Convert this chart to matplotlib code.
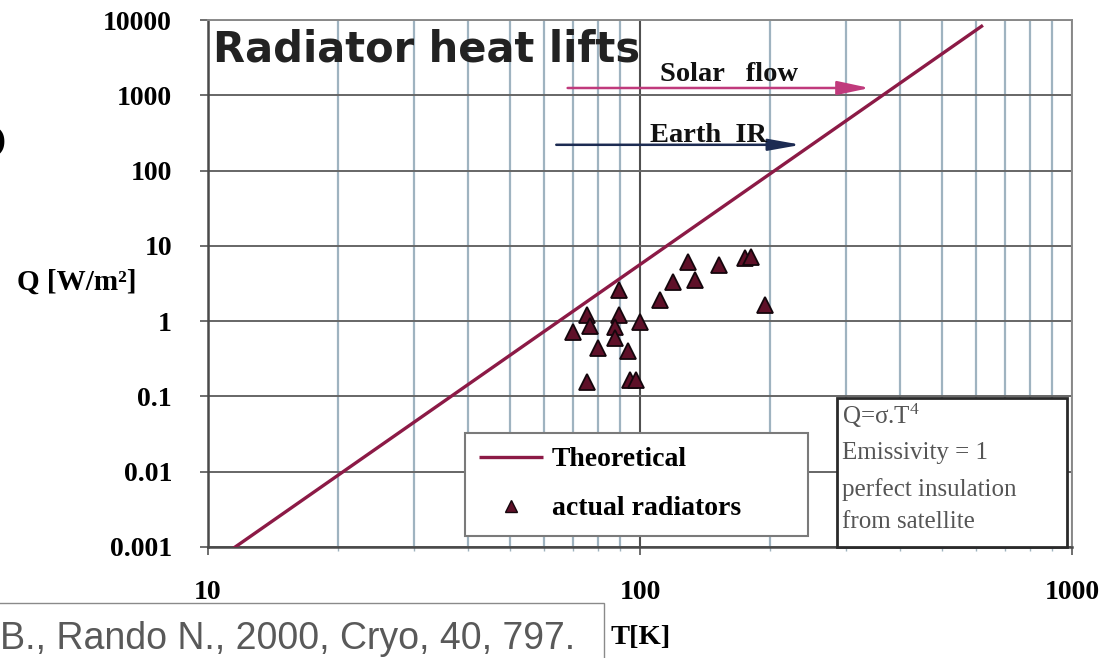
import matplotlib
matplotlib.use("Agg")
import matplotlib.pyplot as plt
from matplotlib.lines import Line2D
from matplotlib.patches import Rectangle
from matplotlib.ticker import LogLocator, NullFormatter, NullLocator

W, H, DPI = 1103, 658, 100

LINE_RED = "#8c1a46"
TRI_FILL = "#5e1028"
SOLAR_COL = "#c03a7c"
EARTH_COL = "#1c2b52"
SERIF = "Liberation Serif"

# theoretical Q = sigma T^4, endpoints
T_THEORY = [11.1, 622.0]
Q_THEORY = [8.5e-4, 8.5e3]

# actual radiators
T_RAD = [70, 75.4, 76.6, 89.4, 89.4, 87.5, 87.5, 100, 80, 93.8, 75.4, 95, 98,
         111, 119, 129, 134, 152, 175, 181, 195]
Q_RAD = [0.72, 1.21, 0.86, 2.6, 1.21, 0.84, 0.60, 0.975, 0.44, 0.40, 0.156, 0.165, 0.165,
         1.9, 3.3, 6.1, 3.5, 5.6, 6.8, 7.1, 1.64]

SOLAR_T = (68, 340)
SOLAR_Q = 1250
EARTH_T = (64, 236)
EARTH_Q = 220

Y_TICKS = [0.001, 0.01, 0.1, 1, 10, 100, 1000, 10000]
Y_LABELS = ["0.001", "0.01", "0.1", "1", "10", "100", "1000", "10000"]
X_TICKS = [10, 100, 1000]
X_LABELS = ["10", "100", "1000"]

NOTE_LINES = ["Q=σ.T${}^{4}$", "Emissivity = 1", "perfect insulation", "from satellite"]

plt.rcParams["mathtext.fontset"] = "custom"
plt.rcParams["mathtext.rm"] = SERIF
plt.rcParams["mathtext.it"] = SERIF + ":italic"

fig = plt.figure(figsize=(W / DPI, H / DPI), dpi=DPI)
fig.patch.set_facecolor("white")
ax = fig.add_axes([208 / W, 1 - 547 / H, 864 / W, 527 / H])
ax.set_xscale("log")
ax.set_yscale("log")
ax.set_xlim(10, 1000)
ax.set_ylim(1e-3, 1e4)

ax.set_yticks(Y_TICKS, Y_LABELS)
ax.yaxis.set_minor_locator(NullLocator())
ax.set_xticks(X_TICKS, X_LABELS)
ax.xaxis.set_minor_locator(LogLocator(base=10, subs=range(2, 10)))
ax.xaxis.set_minor_formatter(NullFormatter())
for lab in ax.get_xticklabels() + ax.get_yticklabels():
    lab.set_fontfamily(SERIF)
    lab.set_fontweight("bold")
    lab.set_fontsize(20)
ax.tick_params(axis="y", which="major", length=6, width=1.2, color="#555555", pad=20)
ax.tick_params(axis="x", which="major", length=6, width=1.2, color="#555555", pad=17.5)
ax.tick_params(axis="x", which="minor", length=3, width=1.0, color="#9fb3bf")

ax.set_axisbelow(True)
ax.grid(which="major", axis="y", color="#666666", lw=1.4)
ax.grid(which="major", axis="x", color="#505050", lw=1.5)
ax.grid(which="minor", axis="x", color="#9fb3c0", lw=1.6)
for side in ("left", "bottom"):
    ax.spines[side].set_color("#4a4a4a")
    ax.spines[side].set_linewidth(1.8)
for side in ("top", "right"):
    ax.spines[side].set_color("#8a8a8a")
    ax.spines[side].set_linewidth(1.4)

h_line, = ax.plot(T_THEORY, Q_THEORY, color=LINE_RED, lw=2.4, solid_capstyle="butt", zorder=3)
ax.plot(T_RAD, Q_RAD, ls="none", marker="^", ms=12, mfc=TRI_FILL, mec="#14060c",
        mew=1.3, zorder=4)

ax.annotate("", xy=(SOLAR_T[1], SOLAR_Q), xytext=(SOLAR_T[0], SOLAR_Q),
            arrowprops=dict(arrowstyle="-|>,head_length=1.4,head_width=0.3", color=SOLAR_COL,
                            lw=1.8, shrinkA=0, shrinkB=0, mutation_scale=14))
ax.annotate("", xy=(EARTH_T[1], EARTH_Q), xytext=(EARTH_T[0], EARTH_Q),
            arrowprops=dict(arrowstyle="-|>,head_length=1.4,head_width=0.25", color=EARTH_COL,
                            lw=1.8, shrinkA=0, shrinkB=0, mutation_scale=14))
ax.text(161, 1900, "Solar   flow", ha="center", va="center", fontsize=20.5,
        fontfamily=SERIF, fontweight="bold", color="#111111")
ax.text(144, 290, "Earth  IR", ha="center", va="center", fontsize=20.5,
        fontfamily=SERIF, fontweight="bold", color="#111111")

tri_handle = Line2D([], [], ls="none", marker="^", ms=8, mfc=TRI_FILL, mec="#14060c")
leg = ax.legend([h_line, tri_handle], ["Theoretical", "actual radiators"], loc="lower left",
                bbox_to_anchor=(0.2975, 0.021, 0.3965, 0.195), mode="expand",
                prop=dict(family=SERIF, weight="bold", size=20), frameon=True,
                fancybox=False, edgecolor="#7a7a7a", framealpha=1, borderpad=0.52,
                handlelength=2.3, handletextpad=0.3, labelspacing=0.85, borderaxespad=0)
leg.get_frame().set_linewidth(1.5)

ax.add_patch(Rectangle((0.728, 0.0), 0.266, 0.283, transform=ax.transAxes,
                       facecolor="white", edgecolor="#2a2a2a", lw=2, zorder=5, clip_on=False))
for txt, yy in zip(NOTE_LINES, [0.248, 0.178, 0.110, 0.048]):
    ax.text(0.734, yy, txt, transform=ax.transAxes, ha="left", va="center", fontsize=18,
            fontfamily=SERIF, color="#555555", zorder=6)

fig.text(77 / W, 1 - 282 / H, "Q [W/m²]", ha="center", va="center", fontsize=21,
         fontfamily=SERIF, fontweight="bold")
fig.text(641 / W, 1 - 638 / H, "T[K]", ha="center", va="center", fontsize=20.5,
         fontfamily=SERIF, fontweight="bold")

# slide elements around the chart
fig.text(213 / W, 1 - 61 / H, "Radiator heat lifts", ha="left", va="baseline", fontsize=30,
         fontfamily="DejaVu Sans", fontweight="bold", color="#222222")
fig.text(6 / W, 1 - 157 / H, "O", ha="right", va="baseline", fontsize=30,
         fontfamily="DejaVu Sans", fontweight="bold", color="black")
fig.add_artist(Rectangle((-0.01, -0.01), 604 / W + 0.01, 1 - 603 / H + 0.01,
                         transform=fig.transFigure, facecolor="white",
                         edgecolor="#8a8a8a", lw=1.0))
fig.text(575 / W, 1 - 649 / H, "B., Rando N., 2000, Cryo, 40, 797.", ha="right",
         va="baseline", fontsize=27, fontfamily="Liberation Sans", color="#595959")

fig.savefig("out.png", dpi=DPI)
